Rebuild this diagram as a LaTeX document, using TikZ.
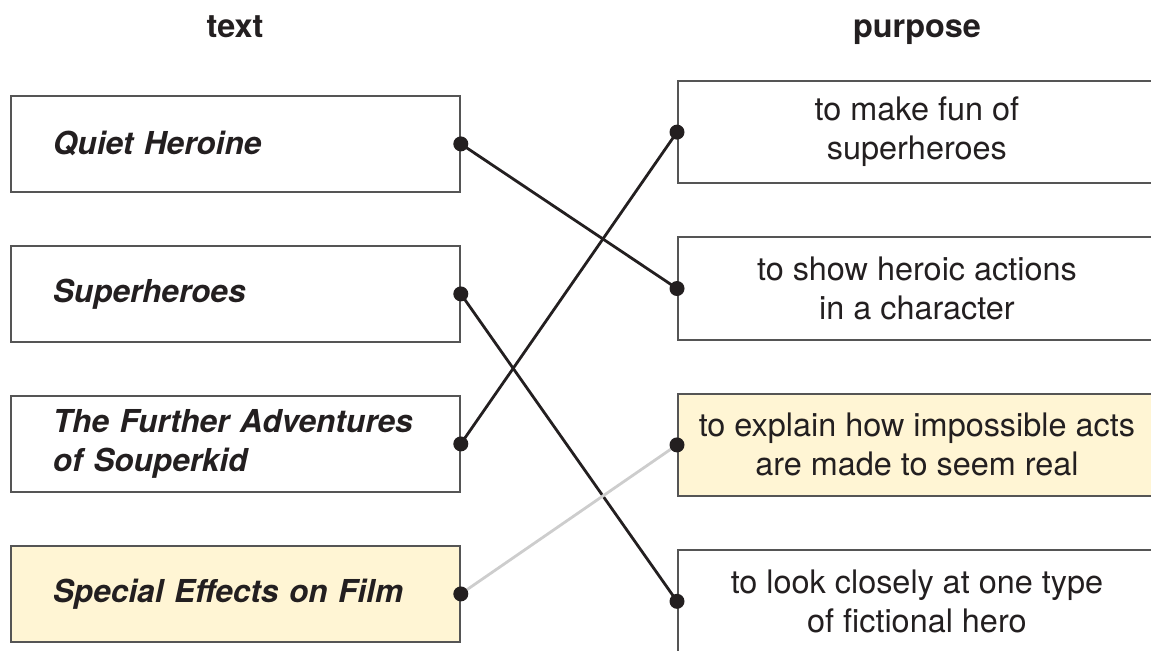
\documentclass[tikz,border=0pt]{standalone}
\usepackage{fontspec}
\setmainfont{TeX Gyre Heros}
\usepackage{xcolor}
\usepackage{tikz}
\usetikzlibrary{positioning}
\definecolor{inkblack}{RGB}{35,31,32}
\definecolor{boxline}{RGB}{85,85,85}
\definecolor{paleyellow}{RGB}{255,245,212}
\definecolor{palegray}{RGB}{205,205,205}
\hyphenpenalty=10000

\begin{document}
\begin{tikzpicture}[
  x=0.5pt, y=-0.5pt,
  node distance=26.1pt,
  font=\fontsize{16.2}{19.5}\selectfont,
  textbox/.style={rectangle, draw=boxline, line width=0.9pt, text=inkblack, minimum width=224.5pt, minimum height=48pt, inner xsep=21pt, text width=182.5pt, align=left, font=\fontsize{15.8}{19.5}\selectfont\bfseries\itshape},
  purposebox/.style={rectangle, draw=boxline, line width=0.9pt, text=inkblack, minimum width=239pt, minimum height=51.2pt, align=center},
  heading/.style={text=inkblack, anchor=base, font=\fontsize{16.2}{19.5}\selectfont\bfseries},
  dot/.style={circle, fill=inkblack, inner sep=0pt, minimum size=7.5pt},
  link/.style={draw=inkblack, line width=1.4pt}
]
\clip (0,0) rectangle (1151,650);

% left column
\node[textbox, anchor=north west] (quiet) at (10,95) {Quiet Heroine};
\node[textbox, below=of quiet] (super) {Superheroes};
\node[textbox, below=of super] (further) {The~Further~Adventures\\of Souperkid};
\node[textbox, fill=paleyellow, below=of further] (special) {Special~Effects~on~Film};

% right column
\node[purposebox, anchor=north west] (fun) at (677,80) {to make fun of\\superheroes};
\node[purposebox, below=of fun] (heroic) {to show heroic actions\\in a character};
\node[purposebox, fill=paleyellow, below=of heroic] (explain) {to explain how impossible acts\\are made to seem real};
\node[purposebox, below=of explain] (look) {to look closely at one type\\of fictional hero};

\node[heading] (texthead) at (235,37) {text};
\node[heading] (purposehead) at (917,37) {purpose};

\draw[link] (quiet.east) -- (heroic.west);
\draw[link] (super.east) -- (look.west);
\draw[link] (further.east) -- (fun.west);
\draw[draw=palegray, line width=1.4pt] (special.east) -- (explain.west);

\foreach \n in {quiet,super,further,special}
  \node[dot] at (\n.east) {};
\foreach \n in {fun,heroic,explain,look}
  \node[dot] at (\n.west) {};
\end{tikzpicture}
\end{document}
